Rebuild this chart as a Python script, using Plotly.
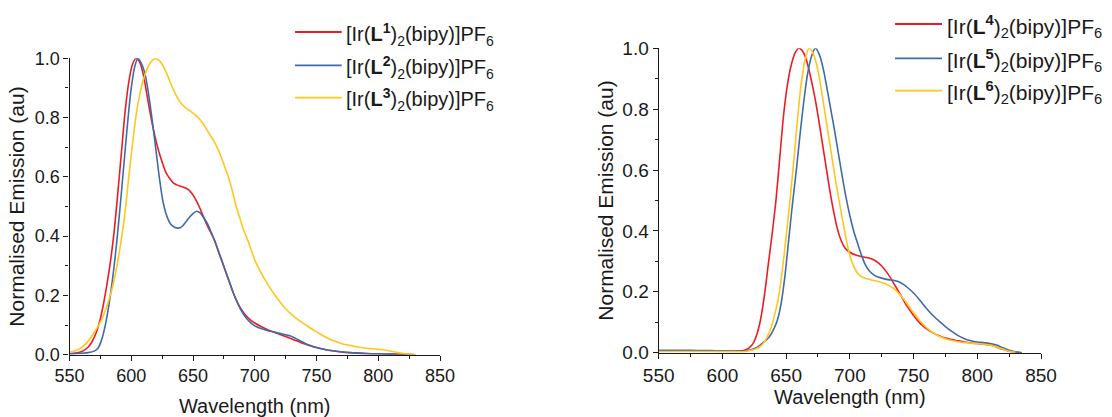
import plotly.graph_objects as go

# ---------------- data ----------------
# Left panel: wavelength (nm) and normalised emission
wl_L1 = [550, 555, 560, 565, 568, 571, 574, 577, 580, 583, 586, 589, 592, 595, 598, 601, 604, 607, 610, 613, 616, 619,
         622, 625, 628, 631, 634, 637, 640, 643, 646, 649, 652, 655, 658, 661, 664, 667, 670, 673, 676, 679, 682, 685,
         688, 691, 694, 697, 700, 705, 710, 715, 720, 725, 730, 735, 740, 745, 750, 755, 760, 770, 780, 790, 800, 810,
         820, 830]
em_L1 = [0.004, 0.006, 0.011, 0.025, 0.042, 0.068, 0.105, 0.16, 0.23, 0.31, 0.41, 0.54, 0.68, 0.82, 0.92, 0.98, 1.0,
         0.985, 0.94, 0.87, 0.8, 0.74, 0.69, 0.65, 0.615, 0.595, 0.58, 0.573, 0.568, 0.564, 0.558, 0.545, 0.525, 0.5,
         0.47, 0.44, 0.415, 0.39, 0.355, 0.32, 0.285, 0.25, 0.215, 0.185, 0.16, 0.142, 0.127, 0.116, 0.107, 0.095,
         0.085, 0.077, 0.069, 0.061, 0.053, 0.045, 0.037, 0.03, 0.024, 0.019, 0.015, 0.009, 0.006, 0.004, 0.003,
         0.002, 0.001, 0.0]

wl_L2 = [550, 560, 565, 570, 573, 576, 579, 582, 585, 588, 591, 594, 597, 600, 603, 605.5, 608, 611, 614, 617, 620, 623,
         626, 629, 632, 635, 638, 641, 644, 647, 650, 653, 656, 659, 662, 665, 668, 671, 674, 677, 680, 683, 686, 689,
         692, 695, 698, 701, 705, 710, 715, 720, 725, 729, 733, 737, 741, 745, 750, 755, 760, 770, 780, 790, 800, 810,
         820, 830]
em_L2 = [0.003, 0.005, 0.007, 0.012, 0.022, 0.05, 0.1, 0.17, 0.26, 0.37, 0.5, 0.64, 0.78, 0.9, 0.975, 1.0, 0.985, 0.95,
         0.88, 0.79, 0.69, 0.59, 0.51, 0.465, 0.44, 0.43, 0.427, 0.432, 0.447, 0.463, 0.476, 0.484, 0.478, 0.46, 0.44,
         0.41, 0.38, 0.345, 0.31, 0.275, 0.24, 0.205, 0.175, 0.15, 0.13, 0.115, 0.103, 0.095, 0.088, 0.082, 0.077,
         0.072, 0.067, 0.063, 0.055, 0.046, 0.038, 0.031, 0.024, 0.019, 0.015, 0.01, 0.006, 0.004, 0.003, 0.002,
         0.001, 0.0]

wl_L3 = [550, 555, 560, 565, 570, 575, 580, 584, 588, 592, 595, 598, 601, 604, 607, 610, 613, 616, 619, 622, 625, 628,
         631, 634, 637, 640, 643, 646, 649, 652, 655, 658, 661, 664, 667, 670, 673, 676, 679, 682, 685, 688, 691, 694,
         697, 700, 704, 708, 712, 716, 720, 725, 730, 735, 740, 745, 750, 755, 760, 765, 770, 775, 780, 785, 790, 795,
         800, 805, 810, 815, 820, 825, 830]
em_L3 = [0.008, 0.014, 0.025, 0.045, 0.075, 0.11, 0.16, 0.215, 0.29, 0.39, 0.48, 0.6, 0.71, 0.81, 0.88, 0.93, 0.965,
         0.988, 0.998, 0.995, 0.98, 0.955, 0.925, 0.895, 0.87, 0.85, 0.837, 0.827, 0.818, 0.808, 0.796, 0.78, 0.76,
         0.74, 0.72, 0.695, 0.665, 0.63, 0.595, 0.55, 0.5, 0.46, 0.42, 0.39, 0.355, 0.32, 0.285, 0.255, 0.228, 0.203,
         0.18, 0.155, 0.135, 0.118, 0.104, 0.09, 0.077, 0.065, 0.054, 0.045, 0.038, 0.033, 0.029, 0.025, 0.022, 0.02,
         0.018, 0.016, 0.012, 0.008, 0.004, 0.002, 0.0]

# Right panel
wl_L4 = [550, 560, 570, 580, 590, 600, 610, 615, 618, 621, 624, 627, 630, 633, 636, 639, 642, 645, 648, 651, 654, 657,
         660, 663, 666, 669, 672, 675, 678, 681, 684, 687, 690, 693, 696, 700, 705, 710, 715, 720, 725, 730, 735, 740,
         745, 750, 755, 760, 765, 770, 775, 780, 785, 790, 795, 800, 805, 810, 815, 820, 825, 830, 835]
em_L4 = [0.006, 0.006, 0.006, 0.006, 0.005, 0.005, 0.005, 0.006, 0.009, 0.016, 0.03, 0.06, 0.11, 0.19, 0.29, 0.39, 0.5,
         0.64, 0.78, 0.88, 0.945, 0.985, 1.0, 0.99, 0.96, 0.91, 0.85, 0.78, 0.7, 0.62, 0.54, 0.47, 0.41, 0.37, 0.345,
         0.33, 0.32, 0.315, 0.311, 0.302, 0.285, 0.258, 0.224, 0.188, 0.152, 0.122, 0.097, 0.079, 0.066, 0.056, 0.048,
         0.043, 0.039, 0.035, 0.032, 0.03, 0.028, 0.025, 0.019, 0.011, 0.005, 0.001, 0.0]

wl_L5 = [550, 560, 570, 580, 590, 600, 610, 615, 620, 624, 628, 631, 634, 637, 640, 643, 646, 649, 652, 655, 658, 661,
         664, 667, 670, 673, 676, 679, 682, 685, 688, 691, 694, 697, 700, 703, 706, 709, 712, 715, 718, 721, 725, 730,
         735, 740, 745, 750, 755, 760, 765, 770, 775, 780, 785, 790, 795, 800, 805, 810, 815, 820, 825, 830, 835]
em_L5 = [0.008, 0.008, 0.008, 0.007, 0.007, 0.006, 0.005, 0.005, 0.007, 0.012, 0.02, 0.03, 0.04, 0.053, 0.075, 0.105,
         0.16, 0.25, 0.37, 0.49, 0.6, 0.72, 0.83, 0.92, 0.975, 1.0, 0.98, 0.935, 0.87, 0.8, 0.73, 0.655, 0.58, 0.51,
         0.45, 0.4, 0.36, 0.322, 0.29, 0.27, 0.258, 0.25, 0.245, 0.24, 0.237, 0.23, 0.215, 0.196, 0.172, 0.146, 0.123,
         0.104, 0.086, 0.07, 0.056, 0.046, 0.039, 0.035, 0.033, 0.03, 0.025, 0.016, 0.008, 0.003, 0.0]

wl_L6 = [550, 570, 590, 610, 618, 622, 626, 629, 632, 635, 638, 641, 644, 647, 650, 653, 656, 659, 662, 665, 668, 671,
         674, 677, 680, 683, 686, 689, 692, 695, 698, 701, 704, 707, 710, 714, 718, 722, 726, 730, 734, 738, 742, 746,
         750, 754, 758, 762, 766, 770, 775, 780, 785, 790, 795, 800, 805, 810, 815, 820, 825, 830]
em_L6 = [0.004, 0.004, 0.004, 0.003, 0.004, 0.007, 0.012, 0.018, 0.03, 0.05, 0.08, 0.125, 0.18, 0.27, 0.38, 0.5, 0.63,
         0.77, 0.89, 0.965, 1.0, 0.985, 0.945, 0.88, 0.8, 0.72, 0.64, 0.56, 0.49, 0.42, 0.355, 0.305, 0.275, 0.257,
         0.248, 0.242, 0.238, 0.234, 0.229, 0.222, 0.212, 0.197, 0.177, 0.155, 0.131, 0.11, 0.091, 0.076, 0.064,
         0.054, 0.046, 0.04, 0.036, 0.033, 0.031, 0.03, 0.028, 0.025, 0.019, 0.012, 0.005, 0.001]

names_left = ["[Ir(<b>L<sup>1</sup></b>)<sub>2</sub>(bipy)]PF<sub>6</sub>",
              "[Ir(<b>L<sup>2</sup></b>)<sub>2</sub>(bipy)]PF<sub>6</sub>",
              "[Ir(<b>L<sup>3</sup></b>)<sub>2</sub>(bipy)]PF<sub>6</sub>"]
names_right = ["[Ir(<b>L<sup>4</sup></b>)<sub>2</sub>(bipy)]PF<sub>6</sub>",
               "[Ir(<b>L<sup>5</sup></b>)<sub>2</sub>(bipy)]PF<sub>6</sub>",
               "[Ir(<b>L<sup>6</sup></b>)<sub>2</sub>(bipy)]PF<sub>6</sub>"]

x_ticks = [550, 600, 650, 700, 750, 800, 850]
y_ticks = [0.0, 0.2, 0.4, 0.6, 0.8, 1.0]

colors = ["#EC1C24", "#3F6CA8", "#FFC61E"]

FONT = "Liberation Sans, Arial, sans-serif"
INK = "#1a1a1a"
W, H = 1112, 417

fig = go.Figure()

left = [(wl_L1, em_L1), (wl_L2, em_L2), (wl_L3, em_L3)]
right = [(wl_L4, em_L4), (wl_L5, em_L5), (wl_L6, em_L6)]

for (x, y), name, c in zip(left, names_left, colors):
    fig.add_trace(go.Scatter(x=x, y=y, mode="lines", name=name, xaxis="x", yaxis="y", showlegend=False,
                             line=dict(color=c, width=1.6, shape="spline", smoothing=0.8)))
for (x, y), name, c in zip(right, names_right, colors):
    fig.add_trace(go.Scatter(x=x, y=y, mode="lines", name=name, xaxis="x2", yaxis="y2", showlegend=False,
                             line=dict(color=c, width=1.6, shape="spline", smoothing=0.8)))


def axis_common(tsize):
    return dict(showline=True, linecolor=INK, linewidth=1.3, showgrid=False, zeroline=False,
                ticks="outside", ticklen=5, tickwidth=1.3, tickcolor=INK, mirror=False, automargin=False,
                tickfont=dict(family=FONT, size=tsize, color=INK))


def xaxis_def(tsize, standoff):
    return dict(axis_common(tsize), range=[550, 850], tickvals=x_ticks,
                minor=dict(ticks="outside", ticklen=3, tickwidth=1.3, tickcolor=INK, dtick=25, tick0=550),
                title=dict(text="Wavelength (nm)", standoff=standoff,
                           font=dict(family=FONT, size=20, color=INK)))


def yaxis_def(tsize, standoff):
    return dict(axis_common(tsize), range=[0, 1.0], tickvals=y_ticks, tickformat=".1f",
                minor=dict(ticks="outside", ticklen=3, tickwidth=1.3, tickcolor=INK, dtick=0.1, tick0=0),
                title=dict(text="Normalised Emission (au)", standoff=standoff,
                           font=dict(family=FONT, size=21, color=INK)))


fig.update_layout(
    width=W, height=H, autosize=False,
    margin=dict(l=0, r=0, t=0, b=0, pad=0),
    paper_bgcolor="white", plot_bgcolor="white",
    font=dict(family=FONT, color=INK),
    showlegend=False,
    xaxis=dict(xaxis_def(18, 13), domain=[69.5 / W, 440 / W], anchor="y"),
    yaxis=dict(yaxis_def(18, 4), domain=[1 - 354.7 / H, 1 - 58.3 / H], anchor="x"),
    xaxis2=dict(xaxis_def(19, 0), domain=[658.7 / W, 1041 / W], anchor="y2"),
    yaxis2=dict(yaxis_def(19, 2), domain=[1 - 352.7 / H, 1 - 48.3 / H], anchor="x2"),
)

# legends (line sample + label), one block per panel
legend_blocks = [
    (names_left, 295, 341.7, 344, [32, 65.3, 97.7], 20),
    (names_right, 895, 942, 945, [24, 58.3, 90.7], 21),
]
for names, x0, x1, xt, ys, fsize in legend_blocks:
    for name, c, yy in zip(names, colors, ys):
        fig.add_shape(type="line", xref="paper", yref="paper", x0=x0 / W, x1=x1 / W,
                      y0=1 - yy / H, y1=1 - yy / H, line=dict(color=c, width=1.8))
        fig.add_annotation(xref="paper", yref="paper", x=xt / W, y=1 - (yy + 2) / H, text=name,
                           showarrow=False, xanchor="left", yanchor="middle",
                           font=dict(family=FONT, size=fsize, color=INK))

fig.write_html("out.html", config={"displayModeBar": False},
               post_script="document.body.style.margin='0px';")
